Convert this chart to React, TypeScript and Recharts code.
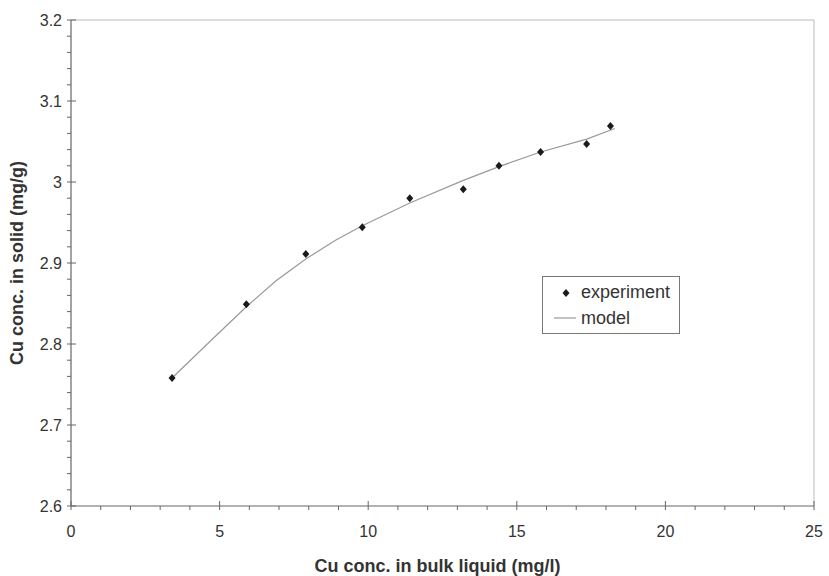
import React from 'react';
import { ScatterChart, Scatter, XAxis, YAxis, ReferenceLine, Legend } from 'recharts';

const expX = [3.4, 5.9, 7.9, 9.8, 11.4, 13.2, 14.4, 15.8, 17.35, 18.15];
const expY = [2.758, 2.849, 2.911, 2.944, 2.98, 2.991, 3.02, 3.037, 3.047, 3.069];
const modelX = [3.4, 4.7, 5.9, 6.9, 7.9, 8.9, 9.8, 11.4, 13.2, 14.4, 15.8, 17.35, 18.3];
const modelY = [2.758, 2.804, 2.846, 2.878, 2.905, 2.928, 2.946, 2.974, 3.002, 3.019, 3.037, 3.053, 3.066];

const xTicks = [0, 1, 2, 3, 4, 5, 6, 7, 8, 9, 10, 11, 12, 13, 14, 15, 16, 17, 18, 19, 20, 21, 22, 23, 24, 25];
const yTicks = [2.6, 2.62, 2.64, 2.66, 2.68, 2.7, 2.72, 2.74, 2.76, 2.78, 2.8, 2.82, 2.84, 2.86, 2.88, 2.9, 2.92, 2.94, 2.96, 2.98, 3.0, 3.02, 3.04, 3.06, 3.08, 3.1, 3.12, 3.14, 3.16, 3.18, 3.2];

const expData = expX.map((x, i) => ({ x, y: expY[i] }));
const modelData = modelX.map((x, i) => ({ x, y: modelY[i] }));

const FONT = "'Liberation Sans', Arial, sans-serif";
const AXIS = '#666';
const TEXT = '#333';

const XTick = (props: any) => {
  const { x, y, payload } = props;
  const v = payload.value;
  const major = v % 5 === 0;
  return (
    <g>
      <line x1={x} x2={x} y1={major ? y - 5 : y} y2={y + 4} stroke={AXIS} strokeWidth={1} />
      {major && (
        <text x={x} y={y + 31} textAnchor="middle" fontSize={16} fontFamily={FONT} fill={TEXT}>
          {String(v)}
        </text>
      )}
    </g>
  );
};

const YTick = (props: any) => {
  const { x, y, payload } = props;
  const v = payload.value;
  const major = Math.abs(v * 10 - Math.round(v * 10)) < 1e-6;
  return (
    <g>
      <line x1={x - 4} x2={major ? x + 5 : x} y1={y} y2={y} stroke={AXIS} strokeWidth={1} />
      {major && (
        <text x={x - 9} y={y + 6} textAnchor="end" fontSize={16} fontFamily={FONT} fill={TEXT}>
          {String(Math.round(v * 10) / 10)}
        </text>
      )}
    </g>
  );
};

const Diamond = (props: any) => {
  const { cx, cy } = props;
  if (cx == null || cy == null) return <g />;
  return <polygon points={`${cx},${cy - 4} ${cx + 3.5},${cy} ${cx},${cy + 4} ${cx - 3.5},${cy}`} fill="#1a1a1a" />;
};

const LegendBox = () => (
  <div
    style={{
      width: 138,
      height: 58,
      border: '1px solid #777',
      boxSizing: 'border-box',
      background: '#fff',
      position: 'relative',
    }}
  >
    <svg width={136} height={56} style={{ position: 'absolute', left: 0, top: 0 }}>
      <polygon points="23,12 26.5,16 23,20 19.5,16" fill="#1a1a1a" />
      <text x={38} y={21} fontSize={18} fontFamily={FONT} fill={TEXT}>experiment</text>
      <line x1={11} x2={33} y1={41} y2={41} stroke="#999" strokeWidth={1.2} />
      <text x={38} y={47} fontSize={18} fontFamily={FONT} fill={TEXT}>model</text>
    </svg>
  </div>
);

export default function App() {
  return (
    <div style={{ position: 'absolute', left: 0, top: 0, width: 829, height: 576, background: '#fff' }}>
      <ScatterChart width={829} height={576} margin={{ top: 20, right: 15, left: 0, bottom: 0 }}>
        <XAxis
          type="number"
          dataKey="x"
          domain={[0, 25]}
          ticks={xTicks}
          interval={0}
          height={70}
          tickSize={0}
          tickMargin={0}
          tickLine={false}
          axisLine={{ stroke: AXIS, strokeWidth: 1.2 }}
          tick={<XTick />}
          label={{
            value: 'Cu conc. in bulk liquid (mg/l)',
            position: 'insideBottom',
            offset: 4,
            dx: -5,
            style: { fontSize: 18, fontWeight: 'bold', fontFamily: FONT, fill: TEXT },
          }}
        />
        <YAxis
          type="number"
          dataKey="y"
          domain={[2.6, 3.2]}
          ticks={yTicks}
          interval={0}
          width={71}
          tickSize={0}
          tickMargin={0}
          tickLine={false}
          axisLine={{ stroke: AXIS, strokeWidth: 1.2 }}
          tick={<YTick />}
          label={{
            value: 'Cu conc. in solid (mg/g)',
            angle: -90,
            position: 'insideLeft',
            offset: 17,
            style: { fontSize: 18, fontWeight: 'bold', fontFamily: FONT, fill: TEXT, textAnchor: 'middle' },
          }}
        />
        <ReferenceLine y={3.2} stroke="#bbb" strokeWidth={1} />
        <ReferenceLine x={25} stroke="#bbb" strokeWidth={1} />
        <Scatter
          name="model"
          data={modelData}
          line={{ stroke: '#999', strokeWidth: 1.2 }}
          lineType="joint"
          shape={() => <g />}
          isAnimationActive={false}
        />
        <Scatter name="experiment" data={expData} shape={<Diamond />} isAnimationActive={false} />
        <Legend
          layout="horizontal"
          verticalAlign="middle"
          align="center"
          content={<LegendBox />}
          wrapperStyle={{ position: 'absolute', left: 542, top: 276, width: 138, height: 58 }}
        />
      </ScatterChart>
    </div>
  );
}
